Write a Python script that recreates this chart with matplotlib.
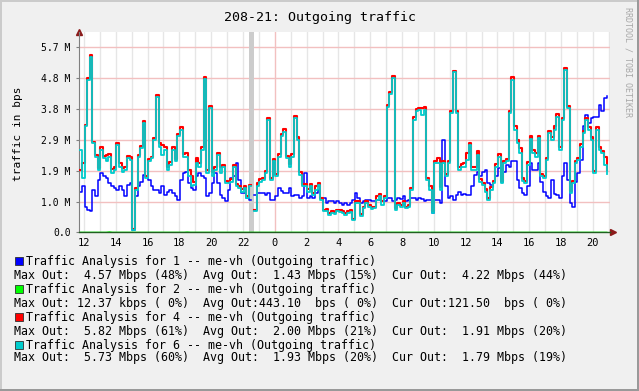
import matplotlib
matplotlib.use("Agg")
import matplotlib.pyplot as plt
import numpy as np
from matplotlib.patches import Rectangle

# samples every 10 minutes, hours counted from midnight of the first day
t_start = 11.7
t_step = 1 / 6.0

# Mbps
blue_vals = [
    1.26, 1.42, 0.80, 0.70, 0.65, 1.31, 1.11, 1.62, 1.83, 1.73,
    1.67, 1.52, 1.42, 1.37, 1.31, 1.42, 1.31, 1.11, 1.47, 1.52,
    0.08, 1.11, 1.42, 1.57, 1.78, 1.73, 1.62, 1.42, 1.31, 1.31,
    1.21, 1.42, 1.16, 1.26, 1.31, 1.21, 1.11, 1.01, 1.62, 1.83,
    1.88, 1.52, 1.37, 1.31, 1.73, 1.83, 1.73, 1.67, 1.11, 1.21,
    1.52, 1.83, 1.52, 1.16, 1.06, 0.96, 1.31, 1.67, 1.73, 2.14,
    1.62, 1.23, 1.21, 1.06, 1.01, np.nan, 1.16, 1.21, 1.21, 1.21,
    1.16, 1.21, 1.01, 1.01, 1.11, 1.37, 1.29, 1.21, 1.21, 1.37,
    1.11, 1.16, 1.16, 1.06, 1.11, 1.83, 1.06, 1.11, 1.06, 1.21,
    1.31, 1.06, 1.06, 0.90, 0.96, 0.96, 0.90, 0.96, 0.92, 0.85,
    0.90, 0.85, 0.90, 1.01, 1.21, 1.06, 0.90, 0.96, 0.99, 0.99,
    0.96, 0.96, 0.99, 1.01, 0.96, 0.96, 1.06, 1.06, 0.96, 1.01,
    1.06, 1.03, 1.11, 0.96, 0.99, 1.06, 1.06, 0.99, 1.06, 1.03,
    0.96, 1.01, 0.99, 0.60, 1.01, 1.01, 0.92, 2.86, 1.42, 1.06,
    1.13, 1.01, 1.16, 1.26, 1.16, 1.19, 1.16, 1.16, 1.42, 1.78,
    1.88, 1.73, 1.88, 1.93, 1.52, 1.47, 1.57, 1.73, 1.98, 1.57,
    1.88, 2.08, 2.03, 2.19, 2.19, 1.62, 1.37, 1.23, 1.16, 1.42,
    2.14, 1.93, 1.93, 2.14, 1.57, 1.26, 1.11, 1.06, 1.62, 1.19,
    1.16, 1.06, 1.73, 2.14, 1.62, 0.90, 0.80, 1.57, 1.83, 2.24,
    3.27, 3.63, 3.37, 3.52, 3.57, 3.57, 3.93, 3.73, 4.14, 4.21,
]

red_vals = [
    1.93, 2.14, 3.32, 4.75, 5.47, 2.80, 2.39, 1.98, 2.63, 2.36,
    2.39, 2.42, 1.95, 2.01, 2.77, 2.14, 1.98, 2.01, 2.36, 2.34,
    0.10, 1.37, 2.39, 2.67, 3.44, 1.75, 2.26, 2.34, 2.91, 4.24,
    2.75, 2.70, 2.65, 2.01, 2.16, 2.63, 2.26, 3.04, 3.25, 2.42,
    2.46, 1.93, 1.73, 1.57, 2.29, 2.14, 2.63, 4.78, 1.93, 3.90,
    1.88, 2.03, 2.46, 2.03, 2.08, 1.60, 1.57, 1.64, 2.08, 1.50,
    1.42, 1.34, 1.42, 1.13, 1.47, np.nan, 0.70, 1.52, 1.64, 1.69,
    1.91, 3.54, 1.67, 2.26, 1.80, 2.42, 3.04, 3.18, 2.36, 2.12,
    2.42, 3.59, 2.94, 1.85, 1.50, 1.50, 1.34, 1.50, 1.23, 1.42,
    1.54, 1.06, 0.70, 0.72, 0.60, 0.65, 0.64, 0.70, 0.68, 0.65,
    0.60, 0.65, 0.68, 0.42, 0.96, 0.96, 0.58, 0.80, 0.97, 0.85,
    0.78, 0.80, 1.11, 1.19, 0.96, 1.11, 3.93, 4.33, 4.83, 0.75,
    0.90, 0.85, 0.96, 0.80, 0.85, 1.37, 3.55, 3.80, 3.85, 3.83,
    3.88, 1.67, 1.42, 0.65, 2.21, 2.29, 1.40, 2.19, 1.81, 2.21,
    3.75, 4.98, 3.75, 2.03, 2.12, 2.14, 2.46, 2.77, 2.01, 2.01,
    2.50, 1.64, 1.54, 1.34, 1.06, 1.40, 1.59, 2.11, 2.42, 1.60,
    2.21, 2.26, 3.75, 4.78, 3.27, 2.86, 2.60, 1.67, 1.59, 2.16,
    2.98, 2.53, 2.44, 2.98, 1.81, 1.75, 2.31, 3.13, 2.93, 3.27,
    3.65, 2.62, 3.54, 5.08, 3.90, 1.28, 1.59, 2.21, 2.31, 2.72,
    3.13, 3.54, 3.24, 2.94, 1.90, 3.24, 2.62, 2.52, 2.34, 1.93,
]

cyan_vals = [
    2.55, 1.67, 3.27, 4.70, 5.42, 2.75, 2.34, 1.93, 2.55, 2.29,
    2.19, 2.34, 1.83, 1.93, 2.70, 2.03, 1.88, 1.93, 2.29, 2.24,
    0.08, 1.31, 2.34, 2.60, 3.37, 1.67, 2.19, 2.29, 2.86, 4.19,
    2.65, 2.39, 2.55, 1.93, 2.08, 2.55, 2.19, 2.96, 3.16, 2.34,
    2.34, 1.73, 1.42, 1.47, 2.14, 2.03, 2.55, 4.72, 1.83, 3.83,
    1.73, 1.93, 2.39, 1.83, 2.03, 1.52, 1.52, 1.57, 2.03, 1.42,
    1.37, 1.26, 1.37, 1.06, 1.42, np.nan, 0.65, 1.42, 1.57, 1.62,
    1.83, 3.47, 1.62, 2.19, 1.73, 2.34, 2.96, 3.11, 2.29, 2.03,
    2.34, 3.52, 2.86, 1.78, 1.42, 1.42, 1.26, 1.42, 1.16, 1.31,
    1.47, 1.01, 0.65, 0.65, 0.54, 0.60, 0.58, 0.65, 0.62, 0.60,
    0.54, 0.60, 0.62, 0.37, 0.90, 0.90, 0.51, 0.75, 0.90, 0.80,
    0.72, 0.75, 1.01, 1.11, 0.85, 1.06, 3.88, 4.27, 4.75, 0.70,
    0.85, 0.80, 0.90, 0.75, 0.80, 1.31, 3.47, 3.73, 3.78, 3.63,
    3.78, 1.62, 1.31, 0.60, 2.14, 2.14, 1.31, 2.14, 1.73, 2.14,
    3.68, 4.96, 3.68, 1.93, 2.03, 2.03, 2.24, 2.70, 1.93, 1.93,
    2.39, 1.57, 1.47, 1.26, 1.01, 1.31, 1.52, 2.03, 2.34, 1.52,
    2.14, 2.19, 3.68, 4.70, 3.16, 2.75, 2.44, 1.60, 1.52, 2.08,
    2.88, 2.44, 2.34, 2.91, 1.73, 1.67, 2.24, 3.06, 2.86, 3.16,
    3.57, 2.55, 3.47, 5.01, 3.83, 1.21, 1.52, 2.14, 2.24, 2.65,
    3.06, 3.47, 3.16, 2.86, 1.83, 3.16, 2.55, 2.44, 2.08, 1.81,
]

# series 2 is almost always zero, only two tiny bumps
green_t = [11.7, 13.4, 13.6, 13.8, 18.3, 18.5, 18.7, 44.87]
green_vals = [0.0, 0.0, 0.012, 0.0, 0.0, 0.008, 0.0, 0.0]

unknown_span = (22.38, 22.69)

ytick_vals = [0.0, 0.955, 1.91, 2.865, 3.82, 4.775, 5.73]
ytick_labels = ["0.0", "1.0 M", "1.9 M", "2.9 M", "3.8 M", "4.8 M", "5.7 M"]
xtick_hours = list(range(12, 45, 2))

legend_colors = ["#0000FF", "#00FF00", "#FF0000", "#00CCCC"]
legend_names = [
    "Traffic Analysis for 1 -- me-vh (Outgoing traffic)",
    "Traffic Analysis for 2 -- me-vh (Outgoing traffic)",
    "Traffic Analysis for 4 -- me-vh (Outgoing traffic)",
    "Traffic Analysis for 6 -- me-vh (Outgoing traffic)",
]
legend_stats = [
    "Max Out:  4.57 Mbps (48%)  Avg Out:  1.43 Mbps (15%)  Cur Out:  4.22 Mbps (44%)",
    "Max Out: 12.37 kbps ( 0%)  Avg Out:443.10  bps ( 0%)  Cur Out:121.50  bps ( 0%)",
    "Max Out:  5.82 Mbps (61%)  Avg Out:  2.00 Mbps (21%)  Cur Out:  1.91 Mbps (20%)",
    "Max Out:  5.73 Mbps (60%)  Avg Out:  1.93 Mbps (20%)  Cur Out:  1.79 Mbps (19%)",
]

plt.rcParams['font.family'] = ['DejaVu Sans Mono']

W, H = 639, 391
fig = plt.figure(figsize=(W / 100, H / 100), dpi=100, facecolor="#F0F0F0")

# plot canvas in pixel terms
left, right, top, bottom = 79, 610, 32, 232.5
ax = fig.add_axes([left / W, 1 - bottom / H, (right - left) / W, (bottom - top) / H])
ax.set_facecolor("white")

t = t_start + np.arange(len(cyan_vals)) * t_step

ax.set_xlim(11.686, 45.08)
ax.set_ylim(0, 6.18)

# grid
for h in range(12, 46):
    col = "#F2C0C0" if h % 24 == 0 else "#E6E6E6"
    ax.axvline(h, color=col, lw=1.0, zorder=0)
for v in ytick_vals[1:]:
    ax.axhline(v, color="#F2C0C0", lw=1.0, zorder=0)

ax.axvspan(*unknown_span, color="#CCCCCC", lw=0, zorder=1)

ax.plot(t, blue_vals, color="#0000FF", lw=1.1, drawstyle="steps-post", zorder=2)
ax.plot(green_t, green_vals, color="#00FF00", lw=1.2, zorder=2)
ax.plot(t, red_vals, color="#FF0000", lw=1.5, drawstyle="steps-post", zorder=3)
ax.plot(t, cyan_vals, color="#00CCCC", lw=1.3, drawstyle="steps-post", zorder=4)

for s in ["top", "right"]:
    ax.spines[s].set_visible(False)
ax.spines["left"].set_color("#808080")
ax.spines["bottom"].set_color("#206020")
ax.spines["bottom"].set_linewidth(1.0)
ax.spines["bottom"].set_zorder(5)

ax.set_yticks(ytick_vals)
ax.set_yticklabels(ytick_labels, fontsize=7)
ax.set_xticks(xtick_hours)
ax.set_xticklabels([str(h % 24) for h in xtick_hours], fontsize=7.5)
ax.tick_params(axis="y", length=2, color="#808080", pad=4)
ax.tick_params(axis="x", length=0, pad=4)

# axis arrows
ax.plot([0], [1.0], marker="^", color="#8B1A1A", markersize=4, transform=ax.transAxes, clip_on=False)
ax.plot([1.006], [0.0], marker=">", color="#8B1A1A", markersize=4, transform=ax.transAxes, clip_on=False)

fig.text(0.5, 1 - 17 / H, "208-21: Outgoing traffic", ha="center", va="center", fontsize=9.5)
fig.text(18 / W, 1 - 134 / H, "traffic in bps", rotation=90, ha="center", va="center", fontsize=8)
fig.text(628 / W, 1 - 62 / H, "RRDTOOL / TOBI OETIKER", rotation=270, ha="center", va="center",
         fontsize=6, color="#A8A8A8")

rows = [261, 275, 289, 303, 317, 331, 345, 358]
for k in range(4):
    yh = rows[2 * k]
    ys = rows[2 * k + 1]
    fig.add_artist(Rectangle((15 / W, 1 - (yh + 4) / H), 8 / W, 8 / H, transform=fig.transFigure,
                             facecolor=legend_colors[k], edgecolor="#303030", lw=0.6))
    fig.text(26 / W, 1 - yh / H, legend_names[k], ha="left", va="center", fontsize=8.4)
    fig.text(14 / W, 1 - ys / H, legend_stats[k], ha="left", va="center", fontsize=8.4)

# 3d-ish frame of the image
fig.add_artist(Rectangle((0, 0), 2 / W, 1, transform=fig.transFigure, color="#CBCBCB", lw=0))
fig.add_artist(Rectangle((0, 1 - 2 / H), 1, 2 / H, transform=fig.transFigure, color="#CBCBCB", lw=0))
fig.add_artist(Rectangle((1 - 2 / W, 0), 2 / W, 1, transform=fig.transFigure, color="#999999", lw=0))
fig.add_artist(Rectangle((0, 0), 1, 2 / H, transform=fig.transFigure, color="#999999", lw=0))

fig.savefig("out.png", dpi=100, facecolor=fig.get_facecolor())
